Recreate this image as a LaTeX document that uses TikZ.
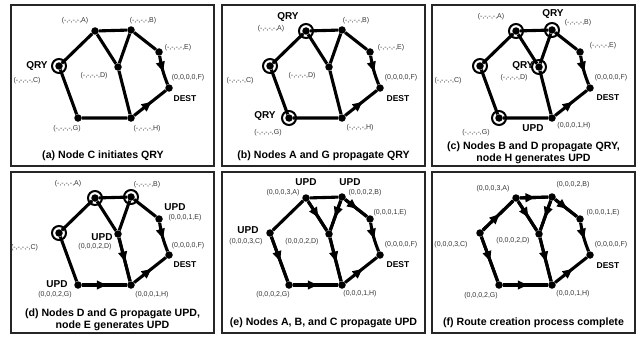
\documentclass[tikz,border=0pt]{standalone}
\usepackage{fontspec}
\setmainfont{Liberation Sans}
\usetikzlibrary{arrows.meta,decorations.markings}

\tikzset{
  dot/.style={circle, fill=black, inner sep=0pt, minimum size=7.5pt},
  ring/.style={circle, draw=black, line width=2pt, inner sep=0pt, minimum size=14pt},
  link/.style={line width=3.1pt},
  flow/.style={postaction={decorate},
    decoration={markings, mark=at position 0.55 with {\arrow{Triangle[length=10pt,width=8.5pt]}}}},
  lbl/.style={font=\fontsize{7}{8}\selectfont, text=black!80, inner sep=0pt},
  tag/.style={font=\fontsize{10}{12}\selectfont\bfseries, inner sep=0pt},
  desttag/.style={font=\fontsize{8.5}{10}\selectfont\bfseries, inner sep=0pt},
  subcap/.style={font=\fontsize{10.6}{11.6}\selectfont\bfseries, align=center, inner sep=0pt},
  panel/.style={draw=black!85, line width=1.4pt},
}

% the eight routers and the links that every panel shares
\newcommand{\routegraph}{%
  \node[dot] (A) at (84,26) {};
  \node[dot] (B) at (120,25) {};
  \node[dot] (C) at (48,61) {};
  \node[dot] (D) at (107,62) {};
  \node[dot] (E) at (148,47) {};
  \node[dot] (F) at (158,83) {};
  \node[dot] (G) at (67,113) {};
  \node[dot] (H) at (120,113) {};
  \draw[link] (A) -- (B) (A) -- (C) (A) -- (D) (B) -- (D) (B) -- (E)
    (C) -- (G) (G) -- (H) (D) -- (H);
  \draw[link, flow] (E) to[bend right=6] (F);
  \draw[link, flow] (H) -- (F);
}

\begin{document}
\begin{tikzpicture}[x=1pt, y=-1pt]
  \useasboundingbox (0,0) rectangle (639,337);

  % (a)
  \begin{scope}[shift={(11,5)}]
    \draw[panel] (0,0) rectangle (203,161);
    \routegraph
    \node[ring] (rc) at (C) {};
    \node[tag] (qc) at (26,61) {QRY};
    \node[lbl] (la) at (64,16) {(-,-,-,-,A)};
    \node[lbl] (lb) at (132,16) {(-,-,-,-,B)};
    \node[lbl] (le) at (167,43) {(-,-,-,-,E)};
    \node[lbl] (lf) at (177,73) {(0,0,0,0,F)};
    \node[desttag] (dest) at (174,94) {DEST};
    \node[lbl] (ld) at (83,71) {(-,-,-,-,D)};
    \node[lbl] (lc) at (16,76) {(-,-,-,-,C)};
    \node[lbl] (lg) at (56,124) {(-,-,-,-,G)};
    \node[lbl] (lh) at (136,124) {(-,-,-,-,H)};
    \node[subcap] (cpt) at (92,151) {(a) Node C initiates QRY};
  \end{scope}

  % (b)
  \begin{scope}[shift={(222,5)}]
    \draw[panel] (0,0) rectangle (203,161);
    \routegraph
    \foreach \n in {A,C,G}
      \node[ring] (r\n) at (\n) {};
    \node[tag] (qa) at (66,12) {QRY};
    \node[tag] (qg) at (43,111) {QRY};
    \node[lbl] (la) at (49,24) {(-,-,-,-,A)};
    \node[lbl] (lb) at (134,16) {(-,-,-,-,B)};
    \node[lbl] (le) at (169,43) {(-,-,-,-,E)};
    \node[lbl] (lf) at (179,73) {(0,0,0,0,F)};
    \node[desttag] (dest) at (176,94) {DEST};
    \node[lbl] (ld) at (80,71) {(-,-,-,-,D)};
    \node[lbl] (lc) at (18,76) {(-,-,-,-,C)};
    \node[lbl] (lg) at (46,128) {(-,-,-,-,G)};
    \node[lbl] (lh) at (138,123) {(-,-,-,-,H)};
    \node[subcap] (cpt) at (101.5,151) {(b) Nodes A and G propagate QRY};
  \end{scope}

  % (c)
  \begin{scope}[shift={(432,5)}]
    \draw[panel] (0,0) rectangle (203,161);
    \routegraph
    \foreach \n in {A,B,C,D,G}
      \node[ring] (r\n) at (\n) {};
    \node[tag] (qb) at (121,9) {QRY};
    \node[tag] (qd) at (91,61) {QRY};
    \node[tag] (uh) at (101,123) {UPD};
    \node[lbl] (la) at (59,12) {(-,-,-,-,A)};
    \node[lbl] (lb) at (146,18) {(-,-,-,-,B)};
    \node[lbl] (le) at (171,41) {(-,-,-,-,E)};
    \node[lbl] (lf) at (179,73) {(0,0,0,0,F)};
    \node[desttag] (dest) at (176,93) {DEST};
    \node[lbl] (ld) at (82,73) {(-,-,-,-,D)};
    \node[lbl] (lc) at (16,76) {(-,-,-,-,C)};
    \node[lbl] (lg) at (44,128) {(-,-,-,-,G)};
    \node[lbl] (lh) at (142,121) {(0,0,0,1,H)};
    \node[subcap] (cpt) at (101.5,148) {(c) Nodes B and D propagate QRY,\\node H generates UPD};
  \end{scope}

  % (d)
  \begin{scope}[shift={(11,172)}]
    \draw[panel] (0,0) rectangle (203,161);
    \routegraph
    \foreach \u/\v in {D/H, G/H}
      \draw[link, flow] (\u) -- (\v);
    \foreach \n in {A,B,C}
      \node[ring] (r\n) at (\n) {};
    \node[tag] (ue) at (164,35) {UPD};
    \node[tag] (ud) at (91,65) {UPD};
    \node[tag] (ug) at (46,112) {UPD};
    \node[lbl] (la) at (57,12) {(-,-,-,-,A)};
    \node[lbl] (lb) at (136,13) {(-,-,-,-,B)};
    \node[lbl] (le) at (174,46) {(0,0,0,1,E)};
    \node[lbl] (lf) at (177,74) {(0,0,0,0,F)};
    \node[desttag] (dest) at (174,93) {DEST};
    \node[lbl] (ld) at (84,75) {(0,0,0,2,D)};
    \node[lbl] (lc) at (13.5,76) {(-,-,-,-,C)};
    \node[lbl] (lg) at (44,123) {(0,0,0,2,G)};
    \node[lbl] (lh) at (141,123) {(0,0,0,1,H)};
    \node[subcap] (cpt) at (101.5,148) {(d) Nodes D and G propagate UPD,\\node E generates UPD};
  \end{scope}

  % (e)
  \begin{scope}[shift={(222,172)}]
    \draw[panel] (0,0) rectangle (203,161);
    \routegraph
    \foreach \u/\v in {D/H, G/H, A/D, B/D, B/E, C/G}
      \draw[link, flow] (\u) -- (\v);
    \node[tag] (ua) at (84,10) {UPD};
    \node[tag] (ub) at (128,10) {UPD};
    \node[tag] (uc) at (26,58) {UPD};
    \node[lbl] (la) at (61,21) {(0,0,0,3,A)};
    \node[lbl] (lb) at (143,21) {(0,0,0,2,B)};
    \node[lbl] (le) at (168,41) {(0,0,0,1,E)};
    \node[lbl] (lc) at (24,70) {(0,0,0,3,C)};
    \node[lbl] (ld) at (80,70) {(0,0,0,2,D)};
    \node[lbl] (lf) at (179,73) {(0,0,0,0,F)};
    \node[desttag] (dest) at (176,93) {DEST};
    \node[lbl] (lg) at (51,123) {(0,0,0,2,G)};
    \node[lbl] (lh) at (138,122) {(0,0,0,1,H)};
    \node[subcap] (cpt) at (101.5,151) {(e) Nodes A, B, and C propagate UPD};
  \end{scope}

  % (f)
  \begin{scope}[shift={(432,172)}]
    \draw[panel] (0,0) rectangle (203,161);
    \routegraph
    \foreach \u/\v in {D/H, G/H, A/D, B/D, B/E, C/G, C/A, A/B}
      \draw[link, flow] (\u) -- (\v);
    \node[lbl] (la) at (61,17) {(0,0,0,3,A)};
    \node[lbl] (lb) at (141,13) {(0,0,0,2,B)};
    \node[lbl] (le) at (171,41) {(0,0,0,1,E)};
    \node[lbl] (lc) at (19,73) {(0,0,0,3,C)};
    \node[lbl] (ld) at (81,69) {(0,0,0,2,D)};
    \node[lbl] (lf) at (179,73) {(0,0,0,0,F)};
    \node[desttag] (dest) at (176,94) {DEST};
    \node[lbl] (lg) at (49,124) {(0,0,0,2,G)};
    \node[lbl] (lh) at (141,122) {(0,0,0,1,H)};
    \node[subcap] (cpt) at (101.5,151) {(f) Route creation process complete};
  \end{scope}
\end{tikzpicture}
\end{document}
